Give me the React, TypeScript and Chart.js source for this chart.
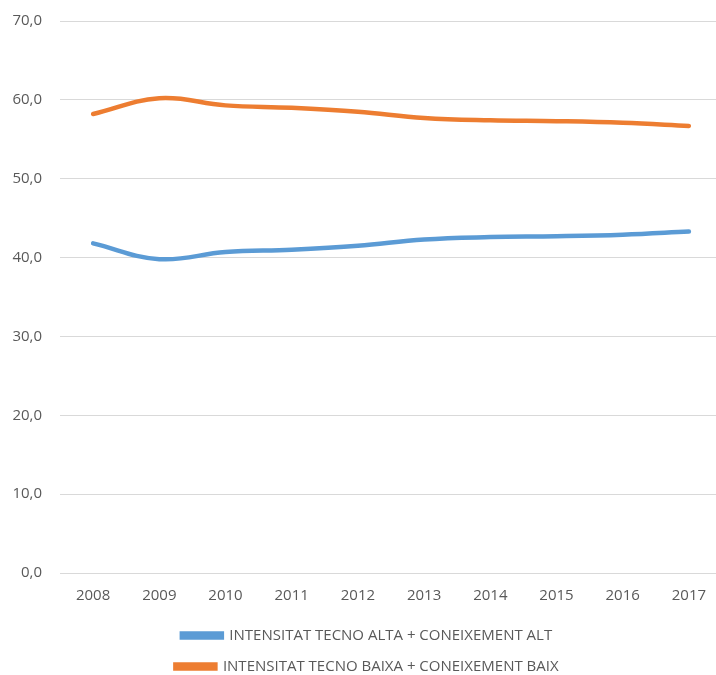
import React, { useEffect, useRef } from "react";
import { Chart, registerables } from "chart.js";

Chart.register(...registerables);

const years = ["2008", "2009", "2010", "2011", "2012", "2013", "2014", "2015", "2016", "2017"];
const altaLabel = "INTENSITAT TECNO ALTA + CONEIXEMENT ALT";
const baixaLabel = "INTENSITAT TECNO BAIXA + CONEIXEMENT BAIX";
const altaValues = [41.8, 39.8, 40.7, 41.0, 41.5, 42.3, 42.6, 42.7, 42.9, 43.3];
const baixaValues = [58.2, 60.2, 59.3, 59.0, 58.5, 57.7, 57.4, 57.3, 57.1, 56.7];

export default function App() {
  const ref = useRef<HTMLCanvasElement | null>(null);
  useEffect(() => {
    if (!ref.current) return;
    const font = { family: "'Open Sans', 'Liberation Sans', sans-serif", size: 15 };
    const chart = new Chart(ref.current, {
      type: "line",
      data: {
        labels: years,
        datasets: [
          {
            label: altaLabel,
            data: altaValues,
            borderColor: "#5B9BD5",
            backgroundColor: "#5B9BD5",
            borderWidth: 4.5,
            pointRadius: 0,
            tension: 0.4,
            borderCapStyle: "round",
          },
          {
            label: baixaLabel,
            data: baixaValues,
            borderColor: "#ED7D31",
            backgroundColor: "#ED7D31",
            borderWidth: 4.5,
            pointRadius: 0,
            tension: 0.4,
            borderCapStyle: "round",
          },
        ],
      },
      options: {
        animation: false,
        responsive: false,
        layout: { padding: { left: 12, top: 2, right: 0, bottom: 0 } },
        plugins: {
          tooltip: { enabled: false },
          legend: {
            position: "bottom",
            labels: {
              color: "#595959",
              font: { ...font, size: 15 },
              boxWidth: 40,
              boxHeight: 4,
              padding: 16,
            },
          },
        },
        scales: {
          x: {
            offset: true,
            grid: { display: false, drawTicks: false },
            border: { display: false },
            ticks: { color: "#595959", font, padding: 14, maxRotation: 0 },
            afterFit: (axis: any) => {
              axis.height = 39;
            },
          },
          y: {
            min: 0,
            max: 70,
            grid: { color: "#D9D9D9", lineWidth: 1, drawTicks: false },
            border: { display: false },
            ticks: {
              stepSize: 10,
              color: "#595959",
              font,
              padding: 18,
              callback: (v: any) => Number(v).toFixed(1).replace(".", ","),
            },
            afterFit: (axis: any) => {
              axis.width = 48;
            },
          },
        },
      },
    });
    return () => chart.destroy();
  }, []);
  return (
    <div style={{ position: "fixed", left: 0, top: 0, width: 716, height: 675, overflow: "hidden", background: "#fff" }}>
      <canvas
        ref={ref}
        width={722}
        height={690}
        style={{ position: "absolute", left: 0, top: -6, width: 722, height: 690 }}
      />
    </div>
  );
}
